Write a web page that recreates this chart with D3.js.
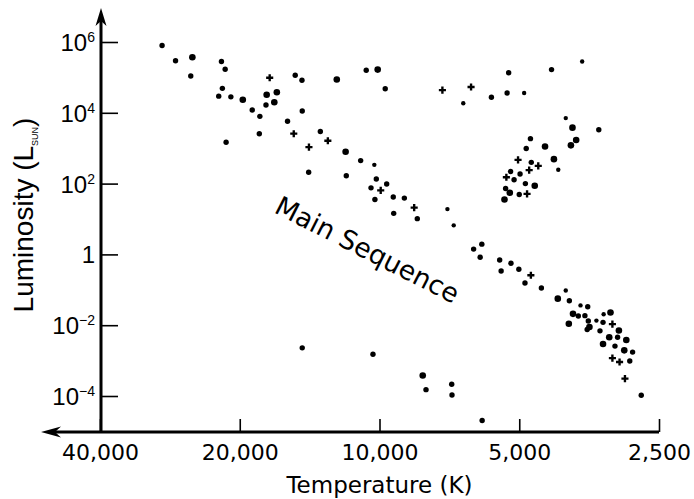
<!DOCTYPE html>
<html>
<head>
<meta charset="utf-8">
<script src="https://cdn.jsdelivr.net/npm/d3@7"></script>
<style>
body { margin: 0; background: #fff; }
svg { display: block; }
</style>
</head>
<body>
<svg width="694" height="499"></svg>
<script>
// stars: [temperature K, log10 luminosity, marker kind]  kind 0 = cross, 1..3 = dot class
var supergiants = [
  [29400, 5.90, 2], [27500, 5.47, 2], [25300, 5.57, 3], [25500, 5.04, 2],
  [21900, 5.45, 2], [21500, 5.23, 2], [21800, 4.69, 2], [22200, 4.47, 2],
  [20900, 4.45, 2], [19700, 4.37, 3], [18800, 4.08, 2], [17500, 4.51, 3],
  [17560, 4.22, 2], [16850, 4.30, 3], [16640, 4.58, 3], [17240, 4.99, 0],
  [15190, 5.06, 2], [14690, 4.92, 2], [14670, 4.05, 2], [12360, 4.94, 3],
  [10680, 5.20, 2], [10090, 5.22, 3], [9720, 4.68, 2], [7320, 4.64, 0],
  [6600, 4.27, 1], [6350, 4.73, 0], [5740, 4.44, 2], [5270, 5.13, 2],
  [5310, 4.56, 2], [4880, 4.56, 1], [4260, 5.22, 2], [3660, 5.45, 1]
];
var mainSequence = [
  [21400, 3.17, 2], [18100, 3.90, 2], [18150, 3.41, 2], [15780, 3.76, 2],
  [15300, 3.41, 0], [13410, 3.47, 2], [12920, 3.21, 0], [14190, 3.03, 0],
  [14210, 2.32, 2], [11830, 2.90, 3], [10980, 2.65, 2], [10260, 2.53, 1],
  [11790, 2.22, 2], [10160, 2.13, 2], [9650, 1.99, 2], [10430, 1.88, 2],
  [9940, 1.81, 0], [10230, 1.55, 2], [9340, 1.62, 2], [8840, 1.59, 2],
  [8420, 1.32, 0], [9320, 1.16, 2], [8290, 1.01, 2], [7140, 1.28, 1],
  [6920, 0.82, 1], [6020, 0.29, 2], [6270, 0.15, 2], [6070, -0.08, 2],
  [5510, -0.16, 2], [5210, -0.25, 2], [5470, -0.47, 2], [5010, -0.42, 2],
  [4720, -0.59, 0], [4860, -0.81, 2], [4480, -0.95, 2], [3970, -1.02, 1],
  [4130, -1.25, 3], [3900, -1.31, 2], [3690, -1.44, 1], [3560, -1.48, 2],
  [3830, -1.68, 3], [3730, -1.74, 2], [3610, -1.73, 2], [3290, -1.69, 1],
  [3180, -1.64, 3], [3910, -1.96, 3], [3550, -1.88, 2], [3410, -1.87, 1],
  [3300, -1.92, 2], [3150, -1.97, 0], [3530, -2.05, 3], [3570, -2.12, 2],
  [3350, -2.16, 2], [3050, -2.15, 3], [3200, -2.34, 3], [3070, -2.34, 2],
  [2940, -2.42, 3], [3300, -2.53, 3], [3110, -2.59, 2], [2970, -2.71, 3],
  [2850, -2.76, 2], [3150, -2.93, 0], [3040, -3.04, 0], [2890, -3.01, 2],
  [2960, -3.51, 0], [2730, -3.98, 2]
];
var giants = [
  [3970, 3.85, 1], [3840, 3.58, 3], [3370, 3.52, 2], [3770, 3.23, 3],
  [3870, 3.08, 3], [4400, 3.05, 3], [4730, 3.27, 2], [4830, 2.99, 2],
  [4210, 2.69, 3], [5030, 2.67, 0], [4710, 2.60, 2], [4550, 2.50, 0],
  [4120, 2.39, 1], [4760, 2.38, 0], [5220, 2.34, 2], [4980, 2.27, 2],
  [5330, 2.18, 0], [5130, 2.11, 2], [4850, 2.00, 2], [4630, 1.94, 3],
  [5350, 1.86, 2], [5240, 1.74, 3], [5000, 1.69, 2], [4810, 1.71, 0],
  [5380, 1.55, 3]
];
var whiteDwarfs = [
  [6010, -4.69, 2], [14670, -2.64, 2], [10330, -2.82, 2], [8070, -3.42, 3],
  [7940, -3.82, 2], [6990, -3.67, 2], [6980, -3.97, 2]
];

var tempTicks = [40000, 20000, 10000, 5000, 2500];
var lumTicks = [1e6, 1e4, 1e2, 1, 1e-2, 1e-4];
var lumExpLabels = ["6", "4", "2", "", "\u22122", "\u22124"];

var svg = d3.select("svg");
var x = d3.scaleLog().domain([40000, 2500]).range([100, 659]);
var y = d3.scaleLog().domain([1e6, 1e-4]).range([42, 396]);
var dotR = d3.scaleOrdinal().domain([1, 2, 3]).range([2.2, 2.7, 3.3]);

var axisX = x(40000) + 1, axisY = 432;

// x axis ticks + labels
var xGroup = svg.append("g").attr("transform", "translate(0," + axisY + ")")
  .call(d3.axisBottom(x).tickValues(tempTicks).tickSizeInner(-13).tickSizeOuter(0)
    .tickFormat(d3.format(",")));
xGroup.select(".domain").remove();
xGroup.selectAll(".tick line").attr("stroke", "#000").attr("stroke-width", 1.6);
xGroup.selectAll(".tick text").attr("y", 28).attr("dy", 0)
  .style("font-family", "DejaVu Sans").style("font-size", "22px").attr("fill", "#000");

// y axis ticks
var yGroup = svg.append("g").attr("transform", "translate(" + axisX + ",0)")
  .call(d3.axisRight(y).tickValues(lumTicks).tickSize(17).tickFormat(""));
yGroup.select(".domain").remove();
yGroup.selectAll(".tick line").attr("stroke", "#000").attr("stroke-width", 1.6);

var yLab = svg.append("g").selectAll("text").data(lumTicks).enter().append("text")
  .attr("x", axisX - 6)
  .attr("y", d => y(d) + 9)
  .attr("text-anchor", "end")
  .style("font-family", "Liberation Sans")
  .style("font-size", "24px");
yLab.each(function(d, i) {
  var t = d3.select(this);
  if (d === 1) { t.text("1"); return; }
  t.append("tspan").text("10");
  t.append("tspan").attr("dy", -9).style("font-size", "14px").text(lumExpLabels[i]);
});

// axis lines with arrows
svg.append("path").attr("d", "M" + axisX + "," + axisY + "V20")
  .attr("stroke", "#000").attr("stroke-width", 3).attr("fill", "none");
svg.append("path").attr("d", "M" + x(2500) + "," + axisY + "H54")
  .attr("stroke", "#000").attr("stroke-width", 3).attr("fill", "none");
svg.append("path")
  .attr("d", "M" + axisX + ",8 L" + (axisX + 5.5) + ",26 L" + axisX + ",21 L" + (axisX - 5.5) + ",26Z")
  .attr("fill", "#000");
svg.append("path")
  .attr("d", "M41," + axisY + " L61," + (axisY - 5.5) + " L55," + axisY + " L61," + (axisY + 5.5) + "Z")
  .attr("fill", "#000");

// stars
var cross = d3.symbol().type(d3.symbolCross).size(28);
[supergiants, mainSequence, giants, whiteDwarfs].forEach(function(group) {
  var g = svg.append("g");
  g.selectAll("circle").data(group.filter(d => d[2] > 0)).enter().append("circle")
    .attr("cx", d => x(d[0]))
    .attr("cy", d => y(Math.pow(10, d[1])))
    .attr("r", d => dotR(d[2]))
    .attr("fill", "#000");
  g.selectAll("path").data(group.filter(d => d[2] === 0)).enter().append("path")
    .attr("d", cross)
    .attr("transform", d => "translate(" + x(d[0]) + "," + y(Math.pow(10, d[1])) + ")")
    .attr("fill", "#000");
});

// labels
svg.append("text")
  .attr("transform", "translate(273,212) rotate(27)")
  .style("font-family", "DejaVu Sans").style("font-size", "26.5px")
  .text("Main Sequence");

svg.append("text")
  .attr("x", x(10000)).attr("y", 493)
  .attr("text-anchor", "middle")
  .style("font-family", "DejaVu Sans").style("font-size", "23px")
  .text("Temperature (K)");

var yt = svg.append("text")
  .attr("transform", "translate(33,215) rotate(-90)")
  .attr("text-anchor", "middle")
  .style("font-family", "Liberation Sans").style("font-size", "28px");
yt.append("tspan").text("Luminosity (L");
yt.append("tspan").attr("dy", 5).style("font-size", "9px").text("SUN");
yt.append("tspan").attr("dy", -5).text(")");
</script>
</body>
</html>
